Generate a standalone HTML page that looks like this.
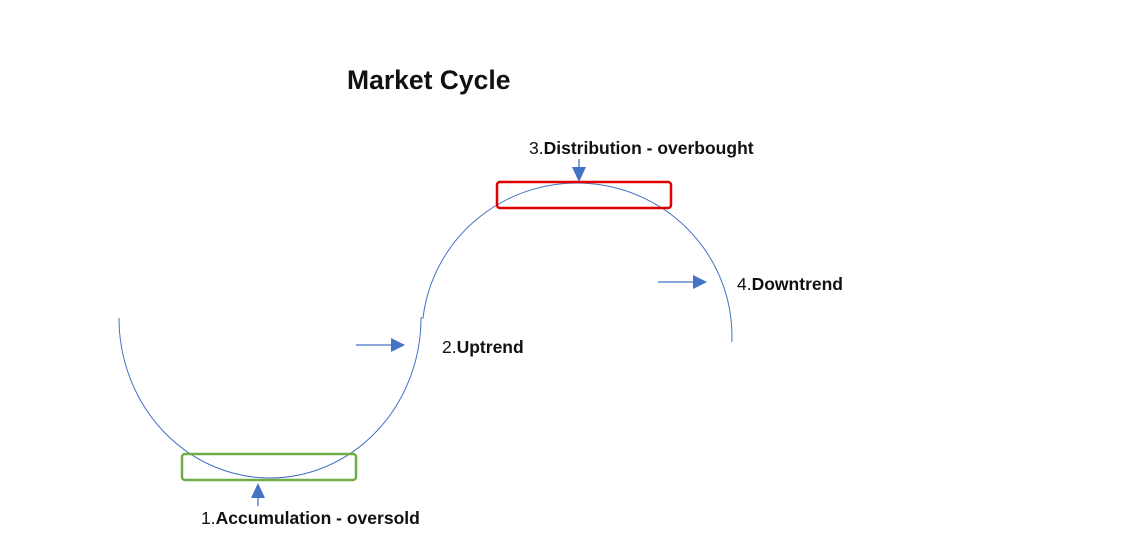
<!DOCTYPE html>
<html><head><style>
body{margin:0;width:1122px;height:550px;background:#fff;overflow:hidden;font-family:"Liberation Sans",sans-serif;}
</style></head><body>
<svg width="1122" height="550" xmlns="http://www.w3.org/2000/svg" style="position:absolute;left:0;top:0">
<defs><marker id="a" markerWidth="14" markerHeight="14" refX="13" refY="7" orient="auto" markerUnits="userSpaceOnUse"><path d="M0,0 L14,7 L0,14z" fill="#4472c4"/></marker></defs>
<path d="M119,318 A151,160 0 0 0 421,318 L423,318 A155,153 0 0 1 731.8,342" fill="none" stroke="#4472c4" stroke-width="1"/>
<rect x="182" y="454" width="174" height="26" rx="3" fill="none" stroke="#70ad47" stroke-width="2.5"/>
<rect x="497" y="182" width="174" height="26" rx="3" fill="none" stroke="#e00000" stroke-width="2.5"/>
<line x1="356" y1="345" x2="404" y2="345" stroke="#4472c4" stroke-width="1.3" marker-end="url(#a)"/>
<line x1="658" y1="282" x2="706" y2="282" stroke="#4472c4" stroke-width="1.3" marker-end="url(#a)"/>
<path d="M251,498 L258,483 L265,498z" fill="#4472c4"/>
<line x1="258" y1="498" x2="258" y2="506" stroke="#4472c4" stroke-width="1.3"/>
<path d="M572,167 L579,182 L586,167z" fill="#4472c4"/>
<line x1="579" y1="159" x2="579" y2="167" stroke="#4472c4" stroke-width="1.3"/>
<g font-family="Liberation Sans, sans-serif" fill="#111">
<text x="347" y="89" font-size="26.5" font-weight="bold">Market Cycle</text>
<text x="529" y="154" font-size="17.5"><tspan>3.</tspan><tspan font-weight="bold">Distribution - overbought</tspan></text>
<text x="737" y="290" font-size="17.5"><tspan>4.</tspan><tspan font-weight="bold">Downtrend</tspan></text>
<text x="442" y="353" font-size="17.5"><tspan>2.</tspan><tspan font-weight="bold">Uptrend</tspan></text>
<text x="201" y="524" font-size="17.5"><tspan>1.</tspan><tspan font-weight="bold">Accumulation - oversold</tspan></text>
</g>
</svg>
</body></html>
